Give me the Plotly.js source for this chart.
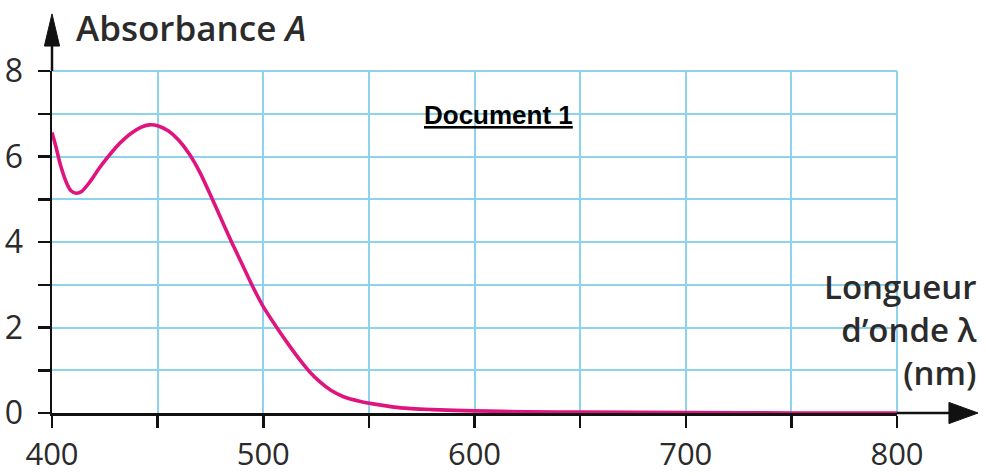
<!DOCTYPE html>
<html>
<head>
<meta charset="utf-8">
<script src="https://cdn.plot.ly/plotly-3.0.1.min.js"></script>
<style>
  html, body { margin: 0; padding: 0; background: #ffffff; }
  #chart { width: 986px; height: 476px; }
</style>
</head>
<body>
<div id="chart"></div>
<script>
// Wavelength (nm) and absorbance
const wavelength = [400, 402, 404, 407, 409, 411.5, 414, 418, 422, 426, 430, 434, 438, 442, 446, 450, 455, 460, 465, 470, 475, 480, 485, 490, 495, 500, 506, 512, 518, 522, 527, 532, 538, 546, 555, 565, 580, 600, 625, 650, 700, 750, 800];
const absorbance = [6.56, 6.2, 5.8, 5.37, 5.2, 5.14, 5.18, 5.41, 5.7, 5.96, 6.2, 6.4, 6.56, 6.68, 6.74, 6.72, 6.6, 6.38, 6.06, 5.63, 5.1, 4.55, 4.0, 3.48, 2.96, 2.49, 2.03, 1.6, 1.2, 0.96, 0.72, 0.53, 0.38, 0.27, 0.19, 0.12, 0.08, 0.05, 0.03, 0.02, 0.01, 0.0, 0.0];

// Tick positions and labels
const xTickVals = [400, 450, 500, 550, 600, 650, 700, 750, 800];
const xTickText = ['400', '', '500', '', '600', '', '700', '', '800'];
const yTickVals = [0, 1, 2, 3, 4, 5, 6, 7, 8];
const yTickText = ['0', '', '2', '', '4', '', '6', '', '8'];

const yTitle = 'Absorbance <i>A</i>';
const xTitle = 'Longueur<br>d’onde λ<br>(nm)';
const docLabel = '<b><u>Document 1</u></b>';

const gridColor = '#8dd3ec';
const curveColor = '#e0147f';
const axisColor = '#111111';
const textColor = '#2b2b2b';

const trace = {
  x: wavelength,
  y: absorbance,
  type: 'scatter',
  mode: 'lines',
  line: { color: curveColor, width: 3.6, shape: 'spline', smoothing: 0.8 },
  cliponaxis: false,
  hoverinfo: 'skip'
};

const layout = {
  width: 986,
  height: 476,
  margin: { l: 52, r: 89, t: 71, b: 63 },
  paper_bgcolor: '#ffffff',
  plot_bgcolor: '#ffffff',
  showlegend: false,
  font: { family: 'Open Sans, sans-serif', color: textColor },
  xaxis: {
    range: [400, 800],
    tickmode: 'array',
    tickvals: xTickVals,
    ticktext: xTickText,
    ticks: 'outside',
    ticklen: 12,
    tickwidth: 2.5,
    tickcolor: axisColor,
    showgrid: true,
    gridcolor: gridColor,
    gridwidth: 2,
    showline: true,
    linecolor: axisColor,
    linewidth: 2.5,
    zeroline: false,
    layer: 'below traces',
    tickfont: { family: 'Open Sans, sans-serif', size: 31, color: textColor },
    ticklabelstandoff: 0,
    fixedrange: true
  },
  yaxis: {
    range: [0, 8],
    tickmode: 'array',
    tickvals: yTickVals,
    ticktext: yTickText,
    ticks: 'outside',
    ticklen: 12,
    tickwidth: 2.5,
    tickcolor: axisColor,
    showgrid: true,
    gridcolor: gridColor,
    gridwidth: 2,
    showline: true,
    linecolor: axisColor,
    linewidth: 2.5,
    zeroline: false,
    layer: 'below traces',
    tickfont: { family: 'Open Sans, sans-serif', size: 32, color: textColor },
    ticklabelstandoff: 8,
    fixedrange: true
  },
  shapes: [
    // top and right grid borders
    { type: 'line', xref: 'paper', yref: 'paper', x0: 0, x1: 1, y0: 1, y1: 1, line: { color: gridColor, width: 2 }, layer: 'below' },
    { type: 'line', xref: 'paper', yref: 'paper', x0: 1, x1: 1, y0: 0, y1: 1, line: { color: gridColor, width: 2 }, layer: 'below' },
    // x-axis extension and arrow head
    { type: 'line', xref: 'paper', yref: 'paper', x0: 1, x1: 1.066, y0: 0, y1: 0, line: { color: axisColor, width: 2.5 } },
    { type: 'path', xref: 'paper', yref: 'paper', path: 'M 1.0615 0.031 L 1.0959 0 L 1.0615 -0.031 Z', fillcolor: axisColor, line: { color: axisColor, width: 1 } },
    // y-axis extension and arrow head
    { type: 'line', xref: 'paper', yref: 'paper', x0: 0, x1: 0, y0: 1, y1: 1.09, line: { color: axisColor, width: 2.5 } },
    { type: 'path', xref: 'paper', yref: 'paper', path: 'M -0.009 1.073 L 0 1.167 L 0.009 1.073 Z', fillcolor: axisColor, line: { color: axisColor, width: 1 } }
  ],
  annotations: [
    {
      text: yTitle, xref: 'paper', yref: 'paper', x: 0.026, y: 1.126,
      xanchor: 'left', yanchor: 'middle', showarrow: false,
      font: { family: 'Open Sans, sans-serif', size: 35, color: textColor, weight: 600 }
    },
    {
      text: xTitle, xref: 'paper', yref: 'paper', x: 1.097, y: 0.243,
      xanchor: 'right', yanchor: 'middle', align: 'right', showarrow: false,
      font: { family: 'Open Sans, sans-serif', size: 33, color: textColor, weight: 600 }
    },
    {
      text: docLabel, xref: 'paper', yref: 'paper', x: 0.528, y: 0.871,
      xanchor: 'center', yanchor: 'middle', showarrow: false,
      font: { family: 'Liberation Sans, Arial, sans-serif', size: 26, color: '#000000' }
    }
  ]
};

Plotly.newPlot('chart', [trace], layout, { staticPlot: true, displayModeBar: false });
</script>
</body>
</html>
